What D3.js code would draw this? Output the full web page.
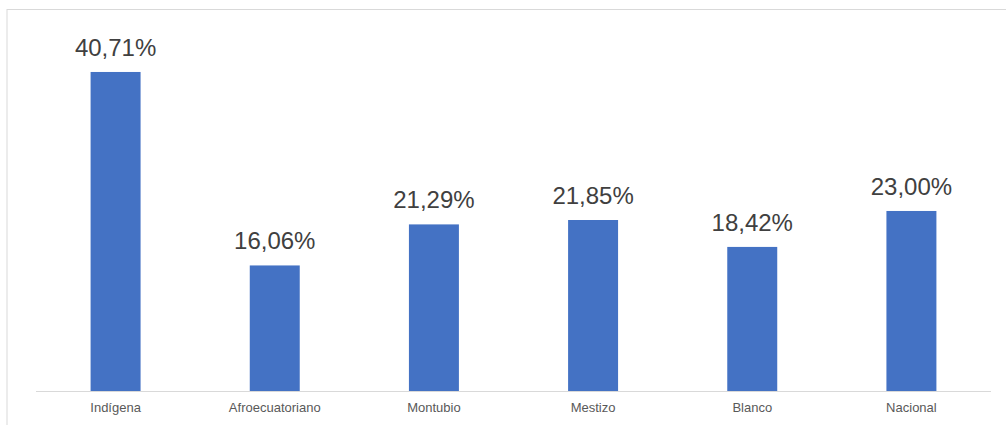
<!DOCTYPE html>
<html><head><meta charset="utf-8">
<script src="https://cdn.jsdelivr.net/npm/d3@7/dist/d3.min.js"></script>
<style>body{margin:0;background:#fff;}svg{display:block;font-family:"Liberation Sans",Arial,sans-serif;}</style>
</head><body>
<script>
const categories = ["Indígena","Afroecuatoriano","Montubio","Mestizo","Blanco","Nacional"];
const values = [40.71,16.06,21.29,21.85,18.42,23.00];
const labels = ["40,71%","16,06%","21,29%","21,85%","18,42%","23,00%"];

const W = 1006, H = 425;
const svg = d3.select("body").append("svg").attr("width", W).attr("height", H);

// chart frame
svg.append("rect").attr("x",7).attr("y",9.5).attr("width",1010).attr("height",430)
  .attr("fill","none").attr("stroke","#d9d9d9").attr("stroke-width",1);

const x = d3.scaleBand().domain(categories).range([36, 991]).paddingInner(0.686).paddingOuter(0.343);
const y = d3.scaleLinear().domain([0, 45]).range([391.5, 38.3]);

svg.append("g").selectAll("rect").data(values).join("rect")
  .attr("x", (d,i) => x(categories[i]))
  .attr("width", x.bandwidth())
  .attr("y", d => y(d))
  .attr("height", d => y(0) - y(d))
  .attr("fill", "#4472C4");

svg.append("line").attr("x1",36).attr("x2",991).attr("y1",391.5).attr("y2",391.5)
  .attr("stroke","#d9d9d9").attr("stroke-width",1);

svg.append("g").selectAll("text").data(values).join("text")
  .attr("x", (d,i) => x(categories[i]) + x.bandwidth()/2)
  .attr("y", d => y(d) - 16)
  .attr("text-anchor","middle")
  .attr("font-size","24px")
  .attr("fill","#404040")
  .text((d,i) => labels[i]);

const xAxis = d3.axisBottom(x).tickSize(0).tickPadding(0);
const gx = svg.append("g").attr("transform","translate(0,391.5)").call(xAxis);
gx.select(".domain").remove();
gx.selectAll("text").attr("font-size","13px").attr("fill","#595959")
  .attr("font-family","Liberation Sans, Arial, sans-serif").attr("dy","0").attr("y",20.5);
</script>
</body></html>
